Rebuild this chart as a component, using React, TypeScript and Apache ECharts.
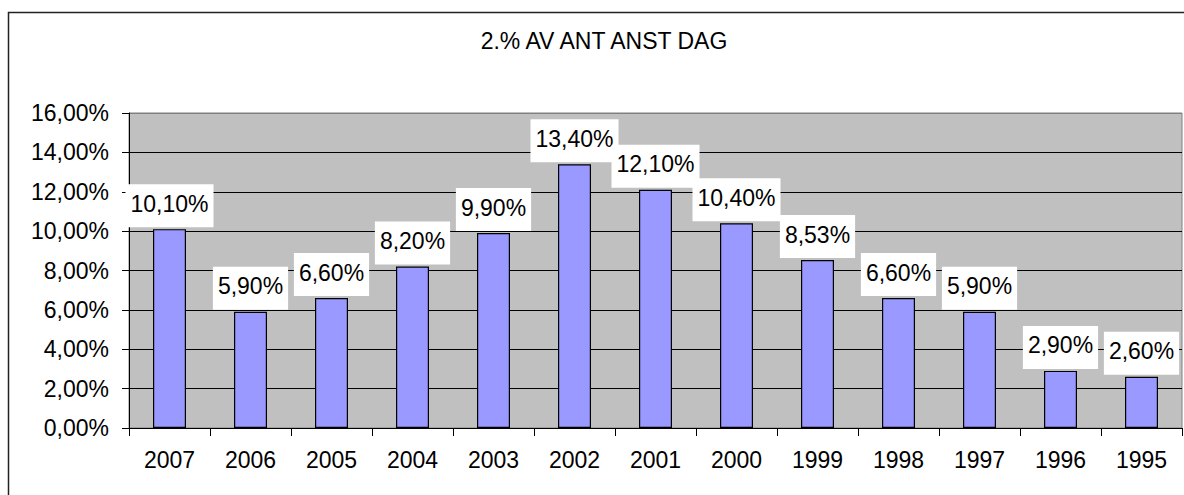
import React, { useEffect, useRef } from "react";
import * as echarts from "echarts";

const categories = ["2007", "2006", "2005", "2004", "2003", "2002", "2001", "2000", "1999", "1998", "1997", "1996", "1995"];
const values = [10.1, 5.9, 6.6, 8.2, 9.9, 13.4, 12.1, 10.4, 8.53, 6.6, 5.9, 2.9, 2.6];
const titleText = "2.% AV ANT ANST DAG";

const fmt = (v: number) => v.toFixed(2).replace(".", ",") + "%";
const FONT = "'Liberation Sans', Arial, sans-serif";

export default function App() {
  const ref = useRef<HTMLDivElement>(null);
  useEffect(() => {
    if (!ref.current) return;
    const chart = echarts.init(ref.current, undefined, { renderer: "svg" });
    chart.setOption({
      animation: false,
      backgroundColor: "#ffffff",
      textStyle: { fontFamily: FONT },
      grid: {
        left: 129,
        top: 113,
        right: 2,
        bottom: 67,
        show: true,
        backgroundColor: "#C0C0C0",
        borderColor: "#808080",
        borderWidth: 1,
        containLabel: false,
      },
      graphic: [
        {
          type: "rect",
          shape: { x: 8.5, y: 12.5, width: 1200, height: 500 },
          style: { fill: "none", stroke: "#222", lineWidth: 1.5 },
          silent: true,
          z: 100,
        },
        {
          type: "text",
          x: 604,
          y: 41,
          style: {
            text: titleText,
            font: `23px ${FONT}`,
            fill: "#000",
            textAlign: "center",
            textVerticalAlign: "middle",
          },
          z: 100,
        },
      ],
      xAxis: {
        type: "category",
        data: categories,
        axisLine: { lineStyle: { color: "#000", width: 1 } },
        axisTick: { show: true, length: 8, alignWithLabel: false, lineStyle: { color: "#000" } },
        axisLabel: { color: "#000", fontSize: 23, fontFamily: FONT, margin: 20, interval: 0 },
        splitLine: { show: false },
      },
      yAxis: {
        type: "value",
        min: 0,
        max: 16,
        interval: 2,
        axisLine: { show: true, lineStyle: { color: "#000", width: 1 } },
        axisTick: { show: true, length: 7, lineStyle: { color: "#000" } },
        axisLabel: { color: "#000", fontSize: 23, fontFamily: FONT, margin: 20, formatter: (v: number) => fmt(v) },
        splitLine: {
          show: true,
          lineStyle: {
            color: ["#000", "#000", "#000", "#000", "#000", "#000", "#000", "#000", "#808080"],
            width: 1,
          },
        },
      },
      series: [
        {
          type: "bar",
          data: values,
          barWidth: 33,
          itemStyle: { color: "#9999FF", borderColor: "#000", borderWidth: 1.2 },
          label: {
            show: true,
            position: "top",
            distance: 2,
            formatter: (p: any) => fmt(p.value),
            color: "#000",
            fontSize: 23,
            fontFamily: FONT,
            backgroundColor: "#ffffff",
            padding: [8, 5, 12, 5],
            lineHeight: 23,
          },
        },
      ],
    });
    return () => chart.dispose();
  }, []);
  return (
    <div
      ref={ref}
      style={{ position: "fixed", left: 0, top: 0, width: 1184, height: 495, background: "#fff" }}
    />
  );
}
